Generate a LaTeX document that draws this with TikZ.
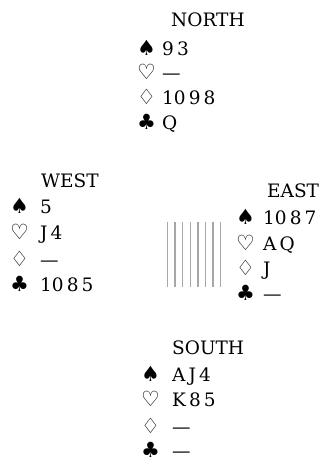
\documentclass[tikz,border=0pt]{standalone}
\usepackage{fontspec}
\setmainfont{DejaVu Serif}
\newfontfamily\suitfont{DejaVu Sans}
\begin{document}
\begin{tikzpicture}[x=1pt,y=-1pt,
  every node/.style={inner sep=0pt, anchor=west, text height=14pt, text depth=0pt,
    font=\fontsize{18.5}{22}\selectfont},
  suit/.style={font=\suitfont\fontsize{21}{24}\selectfont},
  stripe/.style={draw=gray!70, line width=1.3pt}]
\useasboundingbox (0,0) rectangle (328,463);
% NORTH
\node (nlab) at (171,19) {NORTH};
\node[suit] (ns) at (137,48) {♠};
\node[suit] (nh) at (137,72) {♡};
\node[suit] (nd) at (137,97) {♢};
\node[suit] (nc) at (137,122) {♣};
\node (nsc) at (162,48) {9\,3};
\node (nhc) at (162,72) {---};
\node (ndc) at (162,97) {10\,9\,8};
\node (ncc) at (162,122) {Q};
% WEST
\node (wlab) at (41,180) {WEST};
\node[suit] (ws) at (10,206) {♠};
\node[suit] (wh) at (10,232) {♡};
\node[suit] (wd) at (10,259) {♢};
\node[suit] (wc) at (10,284) {♣};
\node (wsc) at (40,206) {5};
\node (whc) at (40,232) {J\,4};
\node (wdc) at (40,259) {---};
\node (wcc) at (40,284) {10\,8\,5};
% EAST
\node (elab) at (267,190) {EAST};
\node[suit] (es) at (236,217) {♠};
\node[suit] (eh) at (236,243) {♡};
\node[suit] (ed) at (236,268) {♢};
\node[suit] (ec) at (236,293) {♣};
\node (esc) at (263,217) {10\,8\,7};
\node (ehc) at (263,243) {A\,Q};
\node (edc) at (263,268) {J};
\node (ecc) at (263,293) {---};
% SOUTH
\node (slab) at (172,347) {SOUTH};
\node[suit] (ss) at (141,374) {♠};
\node[suit] (sh) at (141,399) {♡};
\node[suit] (sd) at (141,426) {♢};
\node[suit] (sc) at (141,450) {♣};
\node (ssc) at (172,374) {A\,J\,4};
\node (shc) at (172,399) {K\,8\,5};
\node (sdc) at (172,426) {---};
\node (scc) at (172,450) {---};
% table stripes
\foreach \i in {0,...,7}
  \draw[stripe] (167.5+7.6*\i,222) -- (167.5+7.6*\i,287);
\end{tikzpicture}
\end{document}
